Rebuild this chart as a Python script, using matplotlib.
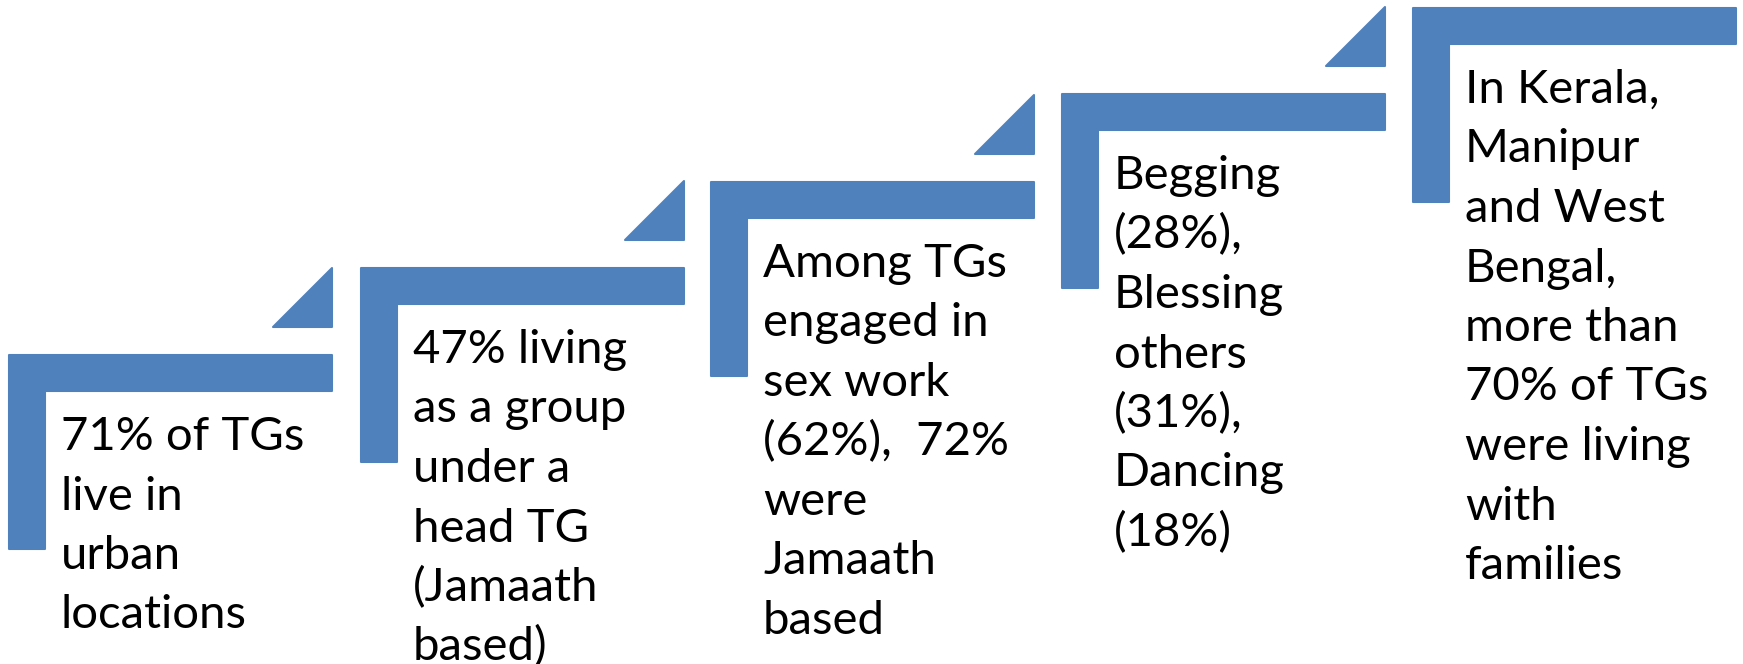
import matplotlib
matplotlib.use("Agg")
from matplotlib import pyplot as plt
from matplotlib.patches import Polygon

# 每一级台阶的文字（按原图换行）
step_texts = [
    ["71% of TGs", "live in", "urban", "locations"],
    ["47% living", "as a group", "under a", "head TG", "(Jamaath", "based)"],
    ["Among TGs", "engaged in", "sex work", "(62%),  72%", "were", "Jamaath", "based"],
    ["Begging", "(28%),", "Blessing", "others", "(31%),", "Dancing", "(18%)"],
    ["In Kerala,", "Manipur", "and West", "Bengal,", "more than", "70% of TGs",
     "were living", "with", "families"],
]
# 台阶左上角位置（像素）
step_left = [9, 361, 711, 1062, 1413]
step_top = [355, 268, 182, 94, 8]
has_arrow = [True, True, True, True, False]

W, H = 1743, 664
blue = "#4F81BD"
step_w = 323
bar = 36
leg = 194
tri = 59
tri_gap = 28
line_h = 59.5

fig = plt.figure(figsize=(W / 100, H / 100), dpi=100)
ax = fig.add_axes([0, 0, 1, 1])
ax.set_xlim(0, W)
ax.set_ylim(H, 0)
ax.axis("off")

for x, y, lines, arrow in zip(step_left, step_top, step_texts, has_arrow):
    # L形台阶
    pts = [(x, y), (x + step_w, y), (x + step_w, y + bar), (x + bar, y + bar),
           (x + bar, y + leg), (x, y + leg)]
    ax.add_patch(Polygon(pts, closed=True, facecolor=blue, edgecolor=blue,
                         linewidth=1.5, joinstyle="round"))
    if arrow:
        r = x + step_w
        b = y - tri_gap
        ax.add_patch(Polygon([(r, b), (r - tri, b), (r, b - tri)], closed=True,
                             facecolor=blue, edgecolor=blue, linewidth=1.5,
                             joinstyle="round"))
    for i, s in enumerate(lines):
        ax.text(x + 52, y + 95 + i * line_h, s, fontsize=34, family="Lato",
                color="black", ha="left", va="baseline")

fig.savefig("out.png", dpi=100)
